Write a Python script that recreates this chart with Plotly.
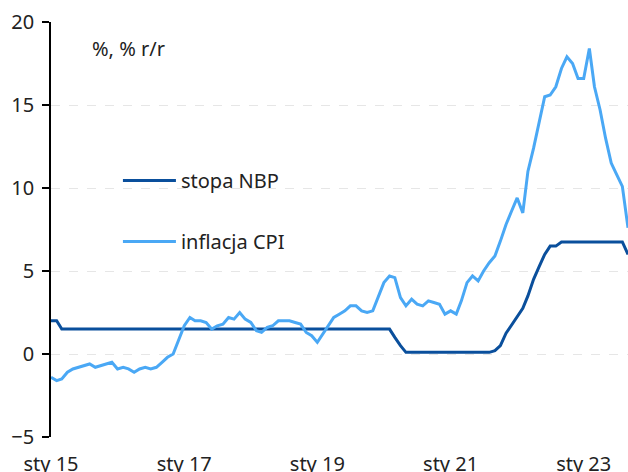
import plotly.graph_objects as go
import pandas as pd

months = pd.date_range("2015-01-01", "2023-09-01", freq="MS")

cpi = [
    -1.4, -1.6, -1.5, -1.1, -0.9, -0.8, -0.7, -0.6, -0.8, -0.7, -0.6, -0.5,
    -0.9, -0.8, -0.9, -1.1, -0.9, -0.8, -0.9, -0.8, -0.5, -0.2, 0.0, 0.8,
    1.7, 2.2, 2.0, 2.0, 1.9, 1.5, 1.7, 1.8, 2.2, 2.1, 2.5, 2.1,
    1.9, 1.4, 1.3, 1.6, 1.7, 2.0, 2.0, 2.0, 1.9, 1.8, 1.3, 1.1,
    0.7, 1.2, 1.7, 2.2, 2.4, 2.6, 2.9, 2.9, 2.6, 2.5, 2.6, 3.4,
    4.3, 4.7, 4.6, 3.4, 2.9, 3.3, 3.0, 2.9, 3.2, 3.1, 3.0, 2.4,
    2.6, 2.4, 3.2, 4.3, 4.7, 4.4, 5.0, 5.5, 5.9, 6.8, 7.8, 8.6,
    9.4, 8.5, 11.0, 12.4, 13.9, 15.5, 15.6, 16.1, 17.2, 17.9, 17.5, 16.6,
    16.6, 18.4, 16.1, 14.7, 13.0, 11.5, 10.8, 10.1, 7.6,
]

nbp = (
    [2.0, 2.0] + [1.5] * 10
    + [1.5] * 12
    + [1.5] * 12
    + [1.5] * 12
    + [1.5] * 12
    + [1.5, 1.5, 1.0, 0.5, 0.1, 0.1, 0.1, 0.1, 0.1, 0.1, 0.1, 0.1]
    + [0.1, 0.1, 0.1, 0.1, 0.1, 0.1, 0.1, 0.1, 0.2, 0.5, 1.25, 1.75]
    + [2.25, 2.75, 3.5, 4.5, 5.25, 6.0, 6.5, 6.5, 6.75, 6.75, 6.75, 6.75]
    + [6.75, 6.75, 6.75, 6.75, 6.75, 6.75, 6.75, 6.75, 6.0]
)

tick_dates = ["2015-01-01", "2017-01-01", "2019-01-01", "2021-01-01", "2023-01-01"]
tick_labels = ["sty 15", "sty 17", "sty 19", "sty 21", "sty 23"]
minor_ticks = [f"{y}-01-01" for y in range(2015, 2024)]

FONT = "Noto Sans"
TXT = "#222222"
NBP_COLOR = "#0a4f9c"
CPI_COLOR = "#4aa8f5"
FS = 20

fig = go.Figure()
fig.add_trace(go.Scatter(x=months, y=nbp, mode="lines", name="stopa NBP",
                         line=dict(color=NBP_COLOR, width=3), legendgroup="a"))
fig.add_trace(go.Scatter(x=months, y=cpi, mode="lines", name="inflacja CPI",
                         line=dict(color=CPI_COLOR, width=3), legendgroup="b"))

xr = ["2015-01-01", "2023-09-01"]

fig.update_layout(
    width=628, height=472,
    margin=dict(l=51, r=0, t=22, b=35, autoexpand=False),
    paper_bgcolor="white", plot_bgcolor="white",
    font=dict(family=FONT, size=FS, color=TXT),
    showlegend=True,
    legend=dict(x=0.116, y=0.665, xanchor="left", yanchor="top",
                bgcolor="rgba(0,0,0,0)", tracegroupgap=32, itemwidth=53,
                font=dict(size=FS, color=TXT)),
    xaxis=dict(range=xr, tickvals=tick_dates, ticktext=tick_labels,
               showgrid=False, showline=False, ticks="", zeroline=False,
               automargin=False,
               ticklabelstandoff=13, tickfont=dict(size=FS, color=TXT)),
    xaxis2=dict(range=xr, overlaying="x", anchor="free", position=0.2,
                tickvals=minor_ticks, showticklabels=False, showgrid=False,
                showline=True, linecolor="#000000", linewidth=1.5,
                ticks="outside", ticklen=7, tickwidth=1.5, tickcolor="#000000",
                zeroline=False, side="bottom", automargin=False),
    yaxis=dict(range=[-5, 20], tickvals=[-5, 0, 5, 10, 15, 20],
               showgrid=True, gridcolor="#e6e6e6", griddash="dash", gridwidth=1,
               zeroline=False, showline=True, linecolor="#000000", linewidth=1.5,
               ticks="outside", ticklen=7, tickwidth=1.5, tickcolor="#000000",
               automargin=False,
               ticklabelstandoff=4, tickfont=dict(size=FS, color=TXT)),
    annotations=[dict(text="%, % r/r", x=0.068, y=0.937, xref="paper", yref="paper",
                      xanchor="left", yanchor="middle", showarrow=False,
                      font=dict(size=FS, color=TXT))],
)

fig.write_html("out.html",
               config={"displayModeBar": False},
               post_script="document.body.style.margin='0px';document.body.style.overflow='hidden';")
